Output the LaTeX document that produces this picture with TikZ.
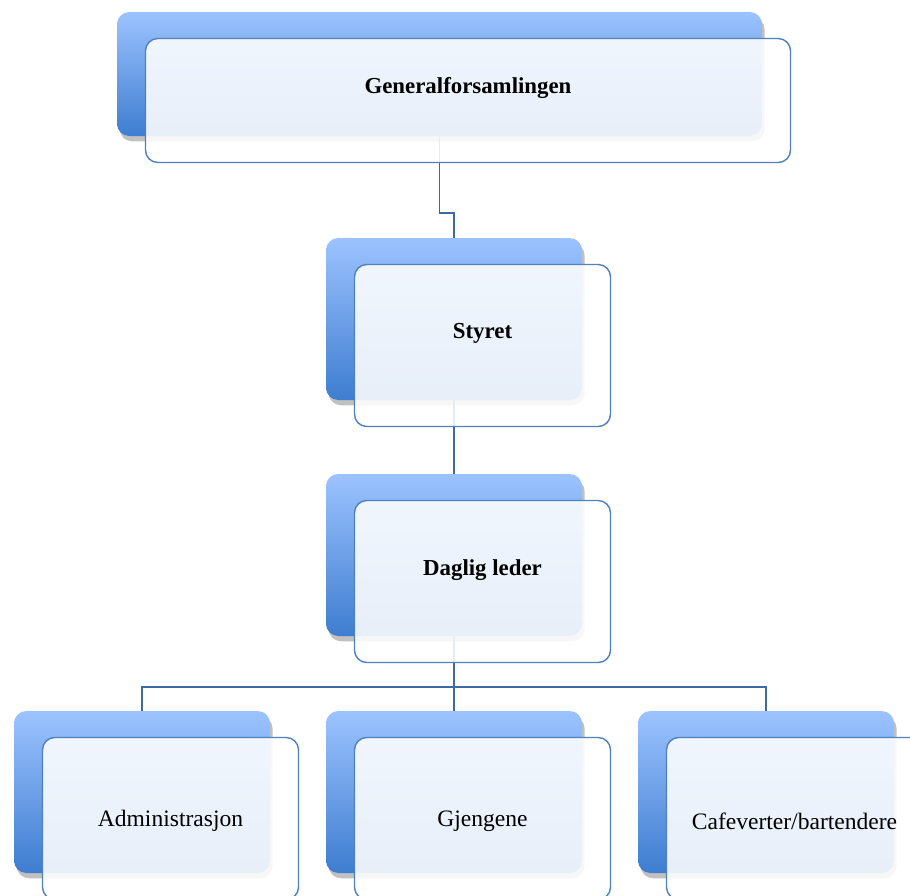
\documentclass[tikz,border=0pt]{standalone}
\usepackage{fontspec}
\setmainfont{Liberation Serif}
\usetikzlibrary{positioning, shadows}

\definecolor{boxtop}{HTML}{9CC3FF}
\definecolor{boxbot}{HTML}{3E7DD0}
\definecolor{rim}{HTML}{4F81BD}
\definecolor{link}{HTML}{3F6AA0}

\begin{document}
\begin{tikzpicture}[
    font=\fontsize{13.4}{15}\selectfont,
    back/.style={rounded corners=7pt, minimum width=5.12cm, minimum height=3.24cm, outer sep=0pt,
        top color=boxtop, bottom color=boxbot,
        drop shadow={shadow xshift=1.5pt, shadow yshift=-3pt, opacity=0.35, fill=black!70}},
    front/.style={draw=rim, line width=0.8pt, rounded corners=7pt, minimum width=5.12cm, minimum height=3.24cm,
        fill=white, fill opacity=0.88},
    wide/.style={minimum width=12.9cm, minimum height=2.48cm},
    conn/.style={draw=link, line width=0.9pt},
    lbl/.style={text=black, inner sep=0pt},
    head/.style={lbl, font=\fontsize{13}{15}\selectfont\bfseries}
]
\useasboundingbox (0,0) rectangle (18.2cm,-17.92cm);
\clip (0,0) rectangle (18.2cm,-17.92cm);

% Back boxes
\node[back, wide] (gf) at (8.79cm,-1.48cm) {};
\node[back, below=2.04cm of gf, xshift=0.29cm] (styret) {};
\node[back, below=1.48cm of styret] (daglig) {};
\node[back, below=1.5cm of daglig] (gjeng) {};
\node[back, left=1.12cm of gjeng] (admin) {};
\node[back, right=1.12cm of gjeng] (cafe) {};

% Connectors
\draw[conn] (gf.south) -- ++(0,-1.54cm) -| (styret.north);
\draw[conn] (styret.south) -- (daglig.north);
\draw[conn] (daglig.south) -- ++(0,-1.02cm) coordinate (split);
\draw[conn] (split) -| (admin.north);
\draw[conn] (split) -| (cafe.north);
\draw[conn] (split) -- (gjeng.north);

% Front boxes
\node[front, wide] (gfF) at ([shift={(0.57cm,-0.53cm)}]gf.center) {};
\node[front] (styretF) at ([shift={(0.57cm,-0.53cm)}]styret.center) {};
\node[front] (dagligF) at ([shift={(0.57cm,-0.53cm)}]daglig.center) {};
\node[front] (adminF) at ([shift={(0.57cm,-0.53cm)}]admin.center) {};
\node[front] (gjengF) at ([shift={(0.57cm,-0.53cm)}]gjeng.center) {};
\node[front] (cafeF) at ([shift={(0.57cm,-0.53cm)}]cafe.center) {};

% Labels
\node[head] at ([yshift=0.25cm]gfF.center) {Generalforsamlingen};
\node[head] at ([yshift=0.25cm]styretF.center) {Styret};
\node[head] at ([yshift=0.23cm]dagligF.center) {Daglig leder};
\node[lbl] at ([yshift=-0.05cm]adminF.center) {Administrasjon};
\node[lbl] at ([yshift=-0.05cm]gjengF.center) {Gjengene};
\node[lbl] at ([yshift=-0.05cm]cafeF.center) {Cafeverter/bartendere};

\end{tikzpicture}
\end{document}
